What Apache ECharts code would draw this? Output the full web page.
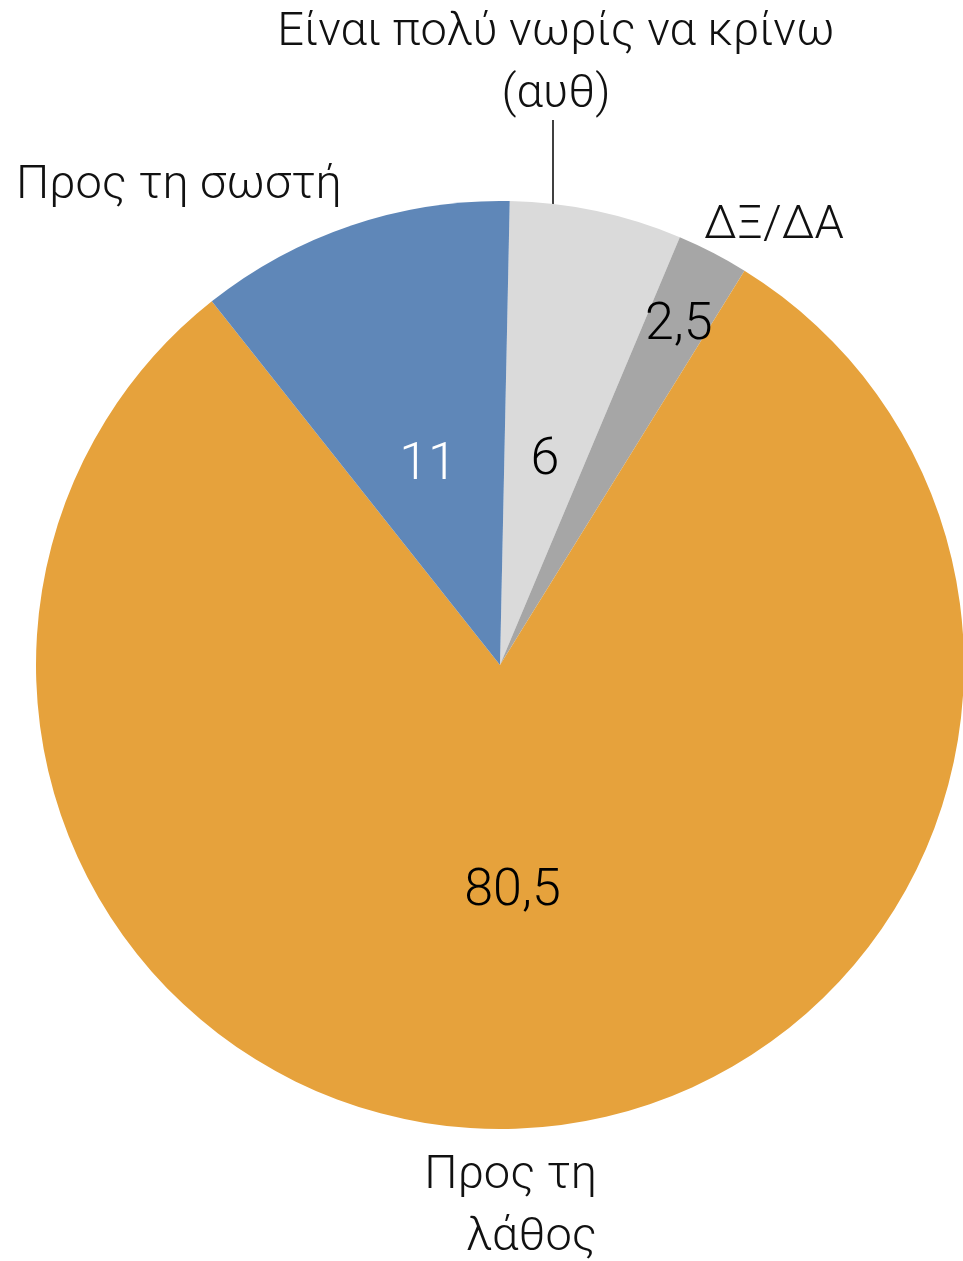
<!DOCTYPE html>
<html>
<head>
<meta charset="utf-8">
<script src="https://cdn.jsdelivr.net/npm/echarts@6/dist/echarts.min.js"></script>
<style>
    html, body { margin: 0; padding: 0; background: #fff; }
    #chart { width: 963px; height: 1261px; }
</style>
</head>
<body>
<div id="chart"></div>
<script>
const categories = ['Είναι πολύ νωρίς να κρίνω\n(αυθ)', 'ΔΞ/ΔΑ', 'Προς τη\nλάθος', 'Προς τη σωστή'];
const values = [6, 2.5, 80.5, 11];
const colors = ['#dadada', '#a6a6a6', '#e6a23c', '#5f87b8'];
const valueTextColors = ['#000', '#000', '#000', '#fff'];

const font = 'Roboto, "Open Sans", sans-serif';

const chart = echarts.init(document.getElementById('chart'));

const pieData = [];
for (let i = 0; i < values.length; i++) {
    pieData.push({
        name: categories[i],
        value: values[i],
        itemStyle: { color: colors[i] },
        label: { color: valueTextColors[i] }
    });
}

const nameData = [];
for (let i = 0; i < values.length; i++) {
    nameData.push({ name: categories[i], value: values[i] });
}

// nudges for the value labels inside the slices
const valueShift = [[-4, 26], [71, -130], [-1, -8], [3, 24]];

// where the category names sit around the pie
const namePlace = [
    { x: 556, y: 64, align: 'center' },
    { x: 704, y: 226, align: 'left' },
    { x: 597, y: 1207, align: 'right' },
    { x: 16, y: 186, align: 'left' }
];

const option = {
    animation: false,
    series: [{
        type: 'pie',
        center: [500, 665],
        radius: [0, 464],
        startAngle: 88.8,
        clockwise: true,
        silent: true,
        data: pieData,
        label: {
            show: true,
            position: 'inside',
            fontFamily: font,
            fontWeight: 300,
            fontSize: 52,
            formatter: p => String(p.value).replace('.', ',')
        },
        labelLine: { show: false },
        labelLayout: p => ({ dx: valueShift[p.dataIndex][0], dy: valueShift[p.dataIndex][1] })
    }, {
        type: 'pie',
        center: [500, 665],
        radius: [0, 464],
        startAngle: 88.8,
        clockwise: true,
        silent: true,
        data: nameData,
        itemStyle: { color: 'transparent' },
        label: {
            show: true,
            position: 'outside',
            overflow: 'none',
            fontFamily: font,
            fontWeight: 300,
            fontSize: 47,
            lineHeight: 62,
            color: '#111',
            formatter: '{b}'
        },
        labelLine: {
            show: true,
            lineStyle: { color: '#000', width: 1.5 }
        },
        labelLayout: p => {
            const s = namePlace[p.dataIndex];
            const out = { x: s.x, y: s.y, align: s.align, verticalAlign: 'middle' };
            if (p.dataIndex === 0) {
                out.labelLinePoints = [[553, 206], [553, 120], [553, 120]];
            } else {
                out.labelLinePoints = [[0, 0], [0, 0], [0, 0]];
            }
            return out;
        }
    }]
};

chart.setOption(option);
</script>
</body>
</html>
